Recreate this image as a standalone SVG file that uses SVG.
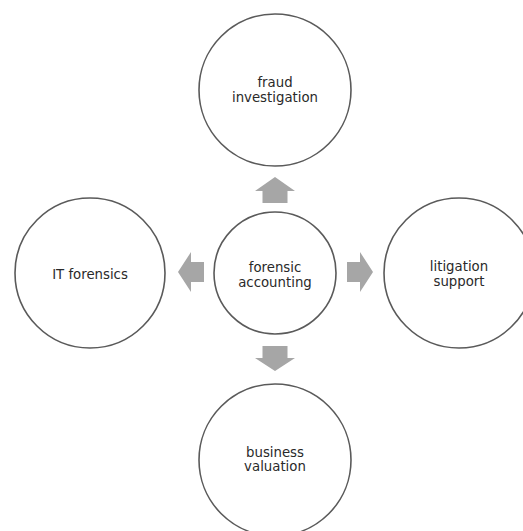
<svg xmlns="http://www.w3.org/2000/svg" width="523" height="531" viewBox="0 0 523 531">
<style>
.node circle{fill:#ffffff;stroke:#5a5a5a;stroke-width:1.6}
.node text{font-family:"DejaVu Sans",Verdana,sans-serif;font-size:13.3px;fill:#2a2a2a;text-anchor:middle}
.arrow{fill:#a6a6a6;stroke:none}
</style>
<rect width="523" height="531" fill="#ffffff"/>
<g id="connectors">
<polygon class="arrow" points="275,177 295,191 287.5,191 287.5,203 262.5,203 262.5,191 255,191"/>
<polygon class="arrow" points="275,371 295,358 287.5,358 287.5,346 262.5,346 262.5,358 255,358"/>
<polygon class="arrow" points="178,272 191,252 191,262 204,262 204,282 191,282 191,292"/>
<polygon class="arrow" points="373,272 360,252 360,262 347,262 347,282 360,282 360,292"/>
</g>
<g id="node-center" class="node">
<circle cx="275" cy="273" r="61"/>
<text x="275" y="272">forensic</text>
<text x="275" y="287">accounting</text>
</g>
<g id="node-top" class="node">
<circle cx="275" cy="90" r="76"/>
<text x="275" y="87">fraud</text>
<text x="275" y="102">investigation</text>
</g>
<g id="node-left" class="node">
<circle cx="90" cy="273" r="75"/>
<text x="90" y="279">IT forensics</text>
</g>
<g id="node-right" class="node">
<circle cx="459" cy="273" r="75"/>
<text x="459" y="271">litigation</text>
<text x="459" y="286">support</text>
</g>
<g id="node-bottom" class="node">
<circle cx="275" cy="460" r="76"/>
<text x="275" y="457">business</text>
<text x="275" y="471">valuation</text>
</g>
</svg>
